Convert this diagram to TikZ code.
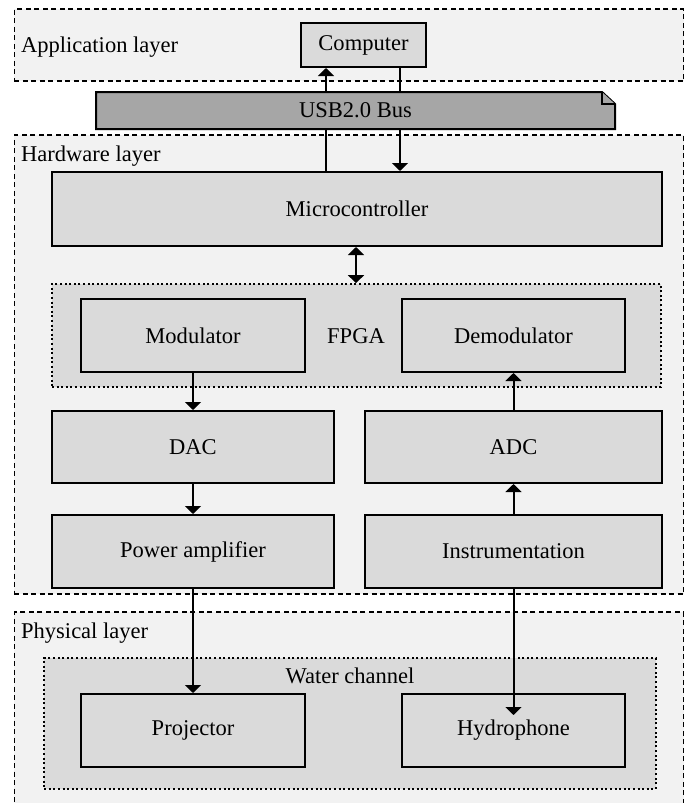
\documentclass[tikz,border=0pt]{standalone}
\usepackage{fontspec}
\setmainfont{Liberation Serif}
\usetikzlibrary{arrows.meta,calc}
\definecolor{layerfill}{HTML}{F2F2F2}
\definecolor{boxfill}{HTML}{DADADA}
\definecolor{usbfill}{HTML}{A6A6A6}
\begin{document}
\begin{tikzpicture}[x=1bp,y=-1bp, font=\fontsize{22.6pt}{27pt}\selectfont,
 layer/.style={draw, line width=1.8bp, dash pattern=on 5bp off 3.5bp, fill=layerfill, inner sep=0pt, minimum width=669bp},
 group/.style={draw, line width=1.8bp, dash pattern=on 2bp off 2.6bp, fill=boxfill, inner sep=0pt},
 blk/.style={draw, line width=2bp, fill=boxfill, inner sep=0pt},
 tip/.tip={Triangle[width=16bp,length=8bp]},
 arr/.style={line width=2bp, -tip},
 darr/.style={line width=2bp, tip-tip},
 lbl/.style={anchor=base west, inner sep=0pt}]
\useasboundingbox (0,0) rectangle (696,803);
\clip (0,0) rectangle (696,803);

% layers
\node[layer, minimum height=72bp] (app) at (349,45) {};
\node[layer, minimum height=459bp] (hw) at (349,364.5) {};
\node[layer, minimum height=194bp] (phys) at (349,709) {};
\node[lbl] (applbl) at (21,53) {Application layer};
\node[lbl] (hwlbl) at (21,161) {Hardware layer};
\node[lbl] (physlbl) at (21,638) {Physical layer};

% application
\node[blk, minimum width=125bp, minimum height=44bp] (computer) at (363.5,45) {Computer};

% hardware
\node[blk, minimum width=610bp, minimum height=74bp] (micro) at (357,209) {Microcontroller};
\node[group, minimum width=609bp, minimum height=103bp] (fpga) at (356.5,335.5) {};
\node[inner sep=0pt] (fpgalbl) at (356,336) {FPGA};
\node[blk, minimum width=223bp, minimum height=73bp] (mod) at (193,335.5) {Modulator};
\node[blk, minimum width=223bp, minimum height=73bp] (demod) at (513.5,335.5) {Demodulator};
\node[blk, minimum width=282bp, minimum height=72bp] (dac) at (193,447) {DAC};
\node[blk, minimum width=297bp, minimum height=72bp] (adc) at (513.5,447) {ADC};
\node[blk, minimum width=282bp, minimum height=73bp] (pa) at (193,551.5) {Power amplifier};
\node[blk, minimum width=297bp, minimum height=73bp] (instr) at (513.5,551.5) {Instrumentation};

% physical
\node[group, minimum width=611.5bp, minimum height=131bp] (water) at (350,723.5) {};
\node[anchor=base, inner sep=0pt] (waterlbl) at (350,683) {Water channel};
\node[blk, minimum width=223bp, minimum height=73bp] (proj) at (193,730.5) {Projector};
\node[blk, minimum width=223bp, minimum height=73bp] (hydro) at (513.5,730.5) {Hydrophone};

% connectors
\coordinate (upx) at (326,0);
\coordinate (dnx) at (400,0);
\coordinate (hyend) at (514,715);
\draw[arr] (micro.north -| upx) -- (computer.south -| upx);
\draw[arr] (computer.south -| dnx) -- (micro.north -| dnx);
\draw[darr] (micro.south -| fpgalbl) -- (fpga.north -| fpgalbl);
\draw[arr] (mod.south) -- (dac.north);
\draw[arr] (dac.south) -- (pa.north);
\draw[arr] (pa.south) -- (proj.north);
\draw[arr] (adc.north) -- (demod.south);
\draw[arr] (instr.north) -- (adc.south);
\draw[arr] (instr.south) -- (instr.south |- hyend);

% USB bus (drawn on top)
\coordinate (usbnw) at (96,92);
\coordinate (usbse) at (615,129);
\draw[line width=2bp, fill=usbfill] (usbnw) -- ([xshift=-13bp]usbnw -| usbse) -- ([yshift=-12bp]usbnw -| usbse) -- (usbse) -- (usbnw |- usbse) -- cycle;
\draw[line width=2bp, fill=usbfill] ([xshift=-13bp]usbnw -| usbse) -- ([xshift=-13bp,yshift=-12bp]usbnw -| usbse) -- ([yshift=-12bp]usbnw -| usbse);
\node[inner sep=0pt] (usb) at ($(usbnw)!0.5!(usbse)$) {USB2.0 Bus};
\end{tikzpicture}
\end{document}
